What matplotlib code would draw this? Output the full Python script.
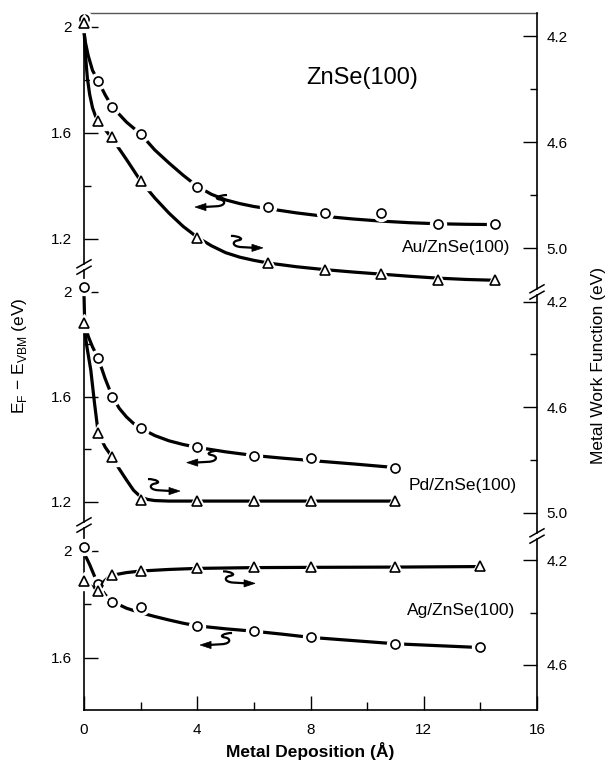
import numpy as np
import matplotlib
matplotlib.use("Agg")
import matplotlib.pyplot as plt
from matplotlib.path import Path
from matplotlib.patches import PathPatch, Polygon
from matplotlib.lines import Line2D
import matplotlib.transforms as mtransforms

plt.rcParams['font.family'] = ['Liberation Sans', 'DejaVu Sans']
plt.rcParams['mathtext.fontset'] = 'custom'
plt.rcParams['mathtext.rm'] = 'Liberation Sans'

# ---------------- data ----------------
# Au / ZnSe(100)
au_x = [0, 0.5, 1, 2, 4, 6.5, 8.5, 10.5, 12.5, 14.5]
au_ef = [2.03, 1.795, 1.697, 1.595, 1.395, 1.32, 1.297, 1.297, 1.256, 1.256]
au_wf = [4.15, 4.52, 4.58, 4.746, 4.961, 5.055, 5.081, 5.096, 5.119, 5.119]
au_ef_curve_x = [0, 0.05, 0.15, 0.3, 0.5, 0.75, 1, 1.5, 2, 2.5, 3, 3.5, 4, 4.5, 5, 5.5,
                 6, 6.5, 7.5, 8.5, 9.5, 10.5, 11.5, 12.5, 13.5, 14.5]
au_ef_curve_y = [1.98, 1.94, 1.89, 1.835, 1.795, 1.742, 1.697, 1.64, 1.595, 1.535, 1.486,
                 1.44, 1.398, 1.368, 1.347, 1.333, 1.322, 1.314, 1.298, 1.285, 1.275,
                 1.267, 1.261, 1.257, 1.255, 1.254]
au_wf_curve_x = [0, 0.05, 0.12, 0.2, 0.3, 0.4, 0.5, 0.75, 1, 1.5, 2, 2.5, 3, 3.5, 4, 4.5,
                 5, 5.5, 6, 6.5, 7.5, 8.5, 9.5, 10.5, 11.5, 12.5, 13.5, 14.5]
au_wf_curve_y = [4.17, 4.27, 4.36, 4.42, 4.47, 4.50, 4.52, 4.553, 4.587, 4.665, 4.746,
                 4.81, 4.867, 4.917, 4.958, 4.99, 5.016, 5.033, 5.045, 5.055, 5.069,
                 5.08, 5.089, 5.097, 5.105, 5.112, 5.117, 5.12]

# Pd / ZnSe(100)
pd_x = [0, 0.5, 1, 2, 4, 6, 8, 11]
pd_ef = [2.018, 1.747, 1.60, 1.48, 1.407, 1.376, 1.366, 1.328]
pd_wf = [4.283, 4.697, 4.788, 4.952, 4.956, 4.956, 4.956, 4.956]
pd_ef_curve_x = [0, 0.02, 0.06, 0.15, 0.3, 0.5, 0.75, 1, 1.25, 1.5, 1.75, 2, 2.5, 3, 3.5,
                 4, 5, 6, 7, 8, 9.5, 11]
pd_ef_curve_y = [1.99, 1.90, 1.865, 1.83, 1.79, 1.747, 1.668, 1.60, 1.555, 1.523, 1.498,
                 1.48, 1.452, 1.432, 1.418, 1.407, 1.39, 1.376, 1.366, 1.357, 1.344, 1.33]
pd_wf_curve_x = [0, 0.05, 0.1, 0.24, 0.37, 0.5, 0.75, 1, 1.25, 1.5, 1.75, 2, 2.25, 2.5,
                 3, 4, 6, 8, 11]
pd_wf_curve_y = [4.30, 4.33, 4.37, 4.46, 4.584, 4.697, 4.752, 4.79, 4.835, 4.876, 4.915,
                 4.94, 4.95, 4.954, 4.956, 4.956, 4.956, 4.956, 4.956]

# Ag / ZnSe(100)
ag_x = [0, 0.5, 1, 2, 4, 6, 8, 11, 14]
ag_ef = [2.015, 1.874, 1.81, 1.788, 1.719, 1.70, 1.676, 1.65, 1.639]
ag_wf = [4.279, 4.317, 4.257, 4.241, 4.232, 4.228, 4.228, 4.228, 4.222]
ag_ef_curve_x = [0, 0.1, 0.2, 0.35, 0.5, 0.75, 1, 1.5, 2, 2.5, 3, 3.5, 4, 5, 6, 7, 8,
                 9.5, 11, 12.5, 14]
ag_ef_curve_y = [1.99, 1.97, 1.948, 1.91, 1.874, 1.835, 1.81, 1.785, 1.768, 1.754, 1.741,
                 1.729, 1.719, 1.708, 1.699, 1.688, 1.676, 1.664, 1.652, 1.645, 1.638]
ag_wf_curve_x = [0, 0.25, 0.5, 0.6, 0.7, 0.85, 1, 1.5, 2, 3, 4, 6, 8, 11, 14]
ag_wf_curve_y = [4.285, 4.30, 4.315, 4.30, 4.282, 4.267, 4.258, 4.248, 4.242, 4.236,
                 4.232, 4.229, 4.228, 4.227, 4.225]

x_major = [0, 4, 8, 12, 16]
x_minor = [2, 6, 10, 14]

panel_names = ['Au/ZnSe(100)', 'Pd/ZnSe(100)', 'Ag/ZnSe(100)']

# ---------------- layout helpers ----------------
W, H = 608, 761
DPI = 100
fig = plt.figure(figsize=(W / DPI, H / DPI), dpi=DPI)

XL, XR = 84, 537


def fx(px):
    return px / W


def fy(py):
    return 1 - py / H


def make_panel(top, bot, lanchor, ranchor, lspine, rspine):
    ax = fig.add_axes([fx(XL), fy(bot), fx(XR - XL), fy(top) - fy(bot)])
    ax.patch.set_alpha(0)
    tw = ax.twinx()
    tw.patch.set_alpha(0)
    v0, p0, s = lanchor
    lv = lambda p: v0 - (p - p0) / s
    ax.set_ylim(lv(bot), lv(top))
    r0, q0, t = ranchor
    rv = lambda p: r0 + (p - q0) / t
    tw.set_ylim(rv(bot), rv(top))
    ax.set_xlim(0, 16)
    tw.set_xlim(0, 16)
    for sp in ['top', 'bottom', 'right']:
        ax.spines[sp].set_visible(False)
    for sp in ['top', 'bottom', 'left']:
        tw.spines[sp].set_visible(False)
    ax.spines['left'].set_bounds(lv(lspine[1]), lv(lspine[0]))
    tw.spines['right'].set_bounds(rv(rspine[1]), rv(rspine[0]))
    ax.spines['left'].set_linewidth(1.2)
    tw.spines['right'].set_linewidth(1.2)
    ax.tick_params(axis='y', which='major', direction='in', length=10, width=1.0,
                   labelsize=11, pad=9)
    ax.tick_params(axis='y', which='minor', direction='in', length=5, width=1.0)
    tw.tick_params(axis='y', which='major', direction='in', length=10, width=1.0,
                   labelsize=11, pad=7)
    tw.tick_params(axis='y', which='minor', direction='in', length=5, width=1.0)
    ax.tick_params(axis='x', which='both', bottom=False, top=False, labelbottom=False)
    tw.tick_params(axis='x', which='both', bottom=False, top=False, labelbottom=False)
    return ax, tw


# panel 1 (Au)
ax1, tw1 = make_panel(13, 292, (2.0, 26.5, 265.5), (4.2, 36.0, 265.5), (13, 264), (13, 289))
# panel 2 (Pd)
ax2, tw2 = make_panel(265, 540, (2.0, 291.7, 262.5), (4.2, 301.5, 264.0), (270, 522), (295, 533))
# panel 3 (Ag)
ax3, tw3 = make_panel(525, 710, (2.0, 550.7, 267.5), (4.2, 560.0, 262.5), (528, 710), (539, 710))

ax1.spines['top'].set_visible(True)
ax1.spines['top'].set_linewidth(1.0)
ax1.spines['top'].set_color('#555555')
ax3.spines['bottom'].set_visible(True)
ax3.spines['bottom'].set_linewidth(1.2)

# y ticks
for ax in (ax1, ax2):
    ax.set_yticks([2.0, 1.6, 1.2])
    ax.set_yticklabels(['2', '1.6', '1.2'])
    ax.set_yticks([1.8, 1.4], minor=True)
ax3.set_yticks([2.0, 1.6])
ax3.set_yticklabels(['2', '1.6'])
ax3.set_yticks([1.8], minor=True)
for tw in (tw1, tw2):
    tw.set_yticks([4.2, 4.6, 5.0])
    tw.set_yticklabels(['4.2', '4.6', '5.0'])
    tw.set_yticks([4.4, 4.8], minor=True)
tw3.set_yticks([4.2, 4.6])
tw3.set_yticklabels(['4.2', '4.6'])
tw3.set_yticks([4.4], minor=True)

# x axis on bottom panel
ax3.set_xticks(x_major)
ax3.set_xticklabels([str(v) for v in x_major])
ax3.set_xticks(x_minor, minor=True)
ax3.tick_params(axis='x', which='major', bottom=True, labelbottom=True, direction='in',
                length=10, width=1.0, labelsize=11, pad=9)
ax3.tick_params(axis='x', which='minor', bottom=True, direction='in', length=6, width=1.0)

# ---------------- curves & markers ----------------
LW = 2.3


def draw(ax, cx, cy, x, y, marker, ms):
    ax.plot(cx, cy, color='black', lw=LW, solid_capstyle='butt', solid_joinstyle='round',
            clip_on=False, zorder=2)
    ax.plot(x, y, linestyle='none', marker=marker, ms=ms + 5, mfc='white', mec='white',
            clip_on=False, zorder=3)
    ax.plot(x, y, linestyle='none', marker=marker, ms=ms, mfc='white', mec='black',
            mew=1.2, clip_on=False, zorder=4)


draw(ax1, au_ef_curve_x, au_ef_curve_y, au_x, au_ef, 'o', 6.5)
draw(tw1, au_wf_curve_x, au_wf_curve_y, au_x, au_wf, '^', 7.5)
draw(ax2, pd_ef_curve_x, pd_ef_curve_y, pd_x, pd_ef, 'o', 6.5)
draw(tw2, pd_wf_curve_x, pd_wf_curve_y, pd_x, pd_wf, '^', 7.5)
draw(ax3, ag_ef_curve_x, ag_ef_curve_y, ag_x, ag_ef, 'o', 6.5)
draw(tw3, ag_wf_curve_x, ag_wf_curve_y, ag_x, ag_wf, '^', 7.5)

# ---------------- squiggle arrows ----------------


def squiggle_arrow(ax, hx, hy, direction):
    d = -1 if direction == 'left' else 1
    # shape defined for a left-pointing arrow (head at origin), in pixels, y up
    verts = [(8, 0), (22, 0.8),
             (31, 1.5), (31, 6.5), (25, 7.5),
             (18, 8.5), (24, 12), (32, 12)]
    codes = [Path.MOVETO, Path.LINETO,
             Path.CURVE4, Path.CURVE4, Path.CURVE4,
             Path.CURVE4, Path.CURVE4, Path.CURVE4]
    head = [(0, 0), (11, 3.6), (11, -3.6)]
    sx = -d
    verts = [(sx * vx, vy) for vx, vy in verts]
    head = [(sx * vx, vy) for vx, vy in head]
    tr = mtransforms.Affine2D().scale(fig.dpi / DPI) + mtransforms.ScaledTranslation(hx, hy, ax.transData)
    ax.add_patch(PathPatch(Path(verts, codes), fill=False, lw=1.6, ec='black',
                           transform=tr, clip_on=False, zorder=5))
    ax.add_patch(Polygon(head, closed=True, fc='black', ec='black', lw=0.5,
                         transform=tr, clip_on=False, zorder=5))


squiggle_arrow(ax1, 3.92, 1.32, 'left')
squiggle_arrow(tw1, 6.32, 4.998, 'right')
squiggle_arrow(ax2, 3.63, 1.349, 'left')
squiggle_arrow(tw2, 3.39, 4.918, 'right')
squiggle_arrow(ax3, 4.1, 1.6475, 'left')
squiggle_arrow(tw3, 6.04, 4.289, 'right')

# ---------------- texts ----------------
ax1.text(9.82, 1.806, 'ZnSe(100)', fontsize=17, ha='center', va='center')
ax1.text(13.14, 1.166, panel_names[0], fontsize=12.5, ha='center', va='center')
ax2.text(13.37, 1.262, panel_names[1], fontsize=12.5, ha='center', va='center')
ax3.text(13.31, 1.775, panel_names[2], fontsize=12.5, ha='center', va='center')

fig.text(fx(20), fy(356), r'E$_\mathregular{F}$ $-$ E$_\mathregular{VBM}$ (eV)', rotation=90,
         fontsize=12.5, ha='center', va='center')
fig.text(fx(599), fy(365), 'Metal Work Function (eV)', rotation=90,
         fontsize=12.5, ha='center', va='center')
fig.text(fx(310.5), fy(751), 'Metal Deposition (Å)', fontsize=12.5, fontweight='bold',
         ha='center', va='center')

# ---------------- axis break marks ----------------


def break_mark(cx, cy):
    for o in (-3.2, 3.2):
        fig.add_artist(Line2D([fx(cx - 7), fx(cx + 7)], [fy(cy + 4 + o), fy(cy - 4 + o)],
                              transform=fig.transFigure, color='black', lw=1.1))


break_mark(XL, 267)
break_mark(XR, 292)
break_mark(XL, 525)
break_mark(XR, 536)

fig.savefig('out.png', dpi=DPI)
